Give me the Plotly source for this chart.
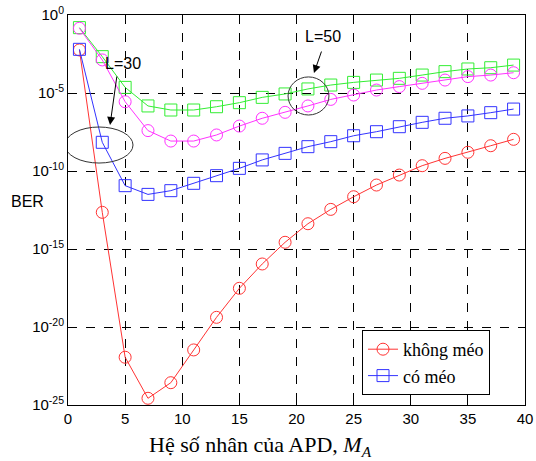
import plotly.graph_objects as go

# Gain values (x axis)
M_A = [1, 3, 5, 7, 9, 11, 13, 15, 17, 19, 21, 23, 25, 27, 29, 31, 33, 35, 37, 39]

# log10(BER)
log_ber_khong_meo_30 = [-2.24, -12.65, -21.94, -24.57, -23.57, -21.47, -19.38, -17.52, -15.96, -14.57,
                        -13.38, -12.46, -11.65, -10.90, -10.26, -9.66, -9.19, -8.80, -8.38, -7.97]
log_ber_co_meo_30 = [-2.20, -8.16, -10.94, -11.50, -11.26, -10.79, -10.30, -9.83, -9.29, -8.87,
                     -8.44, -8.12, -7.74, -7.48, -7.16, -6.88, -6.62, -6.47, -6.26, -6.03]
log_ber_khong_meo_50 = [-0.85, -2.88, -5.56, -7.41, -8.08, -8.08, -7.69, -7.12, -6.62, -6.24,
                        -5.83, -5.41, -5.13, -4.81, -4.59, -4.38, -4.17, -3.95, -3.85, -3.70]
log_ber_co_meo_50 = [-0.81, -2.67, -4.64, -5.83, -6.09, -6.09, -5.88, -5.62, -5.28, -5.06,
                     -4.74, -4.49, -4.32, -4.17, -4.06, -3.85, -3.63, -3.46, -3.38, -3.21]

x_ticks = [0, 5, 10, 15, 20, 25, 30, 35, 40]
y_tick_exps = [0, -5, -10, -15, -20, -25]
y_tick_labels = ["10<sup>0</sup>", "10<sup>-5</sup>", "10<sup>-10</sup>",
                 "10<sup>-15</sup>", "10<sup>-20</sup>", "10<sup>-25</sup>"]


def to_ber(logs):
    return [10 ** v for v in logs]


fig = go.Figure()


def add(name, logs, color, symbol, show):
    fig.add_trace(go.Scatter(
        x=M_A, y=to_ber(logs), mode="lines+markers", name=name, showlegend=show,
        line=dict(color=color, width=1),
        marker=dict(symbol=symbol, size=12, color=color, line=dict(color=color, width=1)),
        cliponaxis=False))


add("L50 có méo", log_ber_co_meo_50, "#33ee33", "square-open", False)
add("L50 không méo", log_ber_khong_meo_50, "#ff33ff", "circle-open", False)
add("không méo", log_ber_khong_meo_30, "#ff3333", "circle-open", True)
add("có méo", log_ber_co_meo_30, "#3333ff", "square-open", True)

axis_common = dict(showline=True, linecolor="black", linewidth=1, mirror=True,
                   showgrid=True, gridcolor="black", griddash="dash", gridwidth=1,
                   zeroline=False, ticks="inside", ticklen=4, tickcolor="black",
                   automargin=False,
                   tickfont=dict(family="Liberation Sans, Arial", size=15, color="black"))

fig.update_xaxes(range=[0, 40], tickvals=x_ticks, **axis_common)
fig.update_yaxes(type="log", range=[-25, 0], tickvals=[10 ** e for e in y_tick_exps],
                 ticktext=y_tick_labels, **axis_common)

# ellipses (shape coordinates on a log axis are data values)
fig.add_shape(type="circle", xref="x", yref="y", x0=-0.26, x1=5.69,
              y0=10 ** -9.49, y1=10 ** -7.18, line=dict(color="#333333", width=1))
fig.add_shape(type="circle", xref="x", yref="y", x0=19.26, x1=22.84,
              y0=10 ** -6.41, y1=10 ** -3.97, line=dict(color="#333333", width=1))

# arrows & labels (annotation coordinates on a log axis are log10 values)
fig.add_annotation(x=3.68, y=-7.05, xref="x", yref="y", ax=7, ay=-50, text="",
                   showarrow=True, arrowhead=2, arrowsize=1.6, arrowwidth=1, arrowcolor="black")
fig.add_annotation(x=4.8, y=-3.1, xref="x", yref="y", text="L=30", showarrow=False,
                   font=dict(family="Liberation Sans, Arial", size=16, color="black"))
fig.add_annotation(x=21.53, y=-3.72, xref="x", yref="y", ax=8, ay=-23, text="",
                   showarrow=True, arrowhead=2, arrowsize=1.6, arrowwidth=1, arrowcolor="black")
fig.add_annotation(x=22.3, y=-1.4, xref="x", yref="y", text="L=50", showarrow=False,
                   font=dict(family="Liberation Sans, Arial", size=16, color="black"))

# axis labels
fig.add_annotation(x=-41 / 457, y=(405 - 201) / 390, xref="paper", yref="paper",
                   xanchor="center", yanchor="middle",
                   text="BER", showarrow=False,
                   font=dict(family="Liberation Sans, Arial", size=16, color="black"))
fig.add_annotation(x=(260 - 68) / 457, y=-(446 - 405) / 390, xref="paper", yref="paper",
                   xanchor="center", yanchor="middle",
                   text="Hệ số nhân của APD, <i>M<sub>A</sub></i>", showarrow=False,
                   font=dict(family="Liberation Serif", size=22, color="black"))

fig.update_layout(
    width=536, height=461,
    margin=dict(l=68, r=11, t=15, b=56),
    paper_bgcolor="white", plot_bgcolor="white",
    legend=dict(x=(362 - 68) / 457, xanchor="left", y=(405 - 330) / 390, yanchor="top",
                xref="paper", yref="paper",
                bordercolor="black", borderwidth=1, bgcolor="white",
                font=dict(family="Liberation Serif", size=18, color="black"),
                traceorder="normal", tracegroupgap=0,
                entrywidth=112, entrywidthmode="pixels"),
)

fig.write_html("out.html", post_script="document.body.style.margin='0';",
               config={"displayModeBar": False})
